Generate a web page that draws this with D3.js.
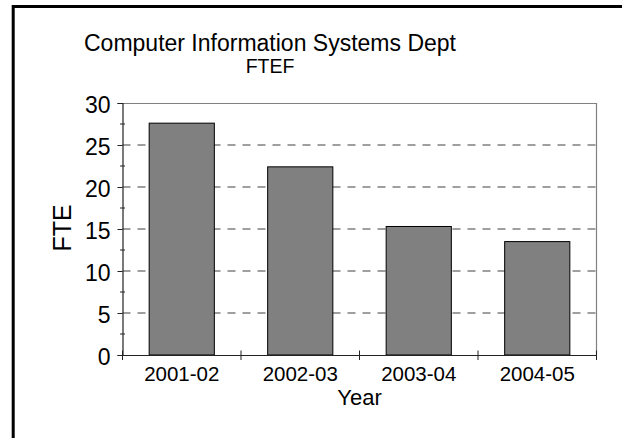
<!DOCTYPE html>
<html>
<head>
<meta charset="utf-8">
<script src="https://cdn.jsdelivr.net/npm/d3@7"></script>
<style>
  body { margin: 0; background: #fff; }
  text { font-family: "Liberation Sans", Arial, sans-serif; fill: #000; }
</style>
</head>
<body>
<div class="chart"></div>
<script>
var years = ["2001-02", "2002-03", "2003-04", "2004-05"];
var fte = [27.6, 22.4, 15.3, 13.5];
var yTicks = [0, 5, 10, 15, 20, 25, 30];
var yMinorTicks = [2.5, 7.5, 12.5, 17.5, 22.5, 27.5];

var svgWidth = 622;
var svgHeight = 438;

var margin = { top: 103, right: 25.5, bottom: 83, left: 122.5 };
var width = svgWidth - margin.left - margin.right;
var height = svgHeight - margin.top - margin.bottom;

var svg = d3.select(".chart")
  .append("svg")
  .attr("width", svgWidth)
  .attr("height", svgHeight);

// outer frame (runs off right and bottom edges)
svg.append("rect")
  .attr("x", 13.2)
  .attr("y", 6.5)
  .attr("width", 700)
  .attr("height", 500)
  .attr("fill", "none")
  .attr("stroke", "#000")
  .attr("stroke-width", 3);

svg.append("text")
  .attr("x", 270)
  .attr("y", 51)
  .attr("text-anchor", "middle")
  .style("font-size", "23px")
  .text("Computer Information Systems Dept");

svg.append("text")
  .attr("x", 270)
  .attr("y", 72.5)
  .attr("text-anchor", "middle")
  .style("font-size", "19.5px")
  .text("FTEF");

var chart = svg.append("g")
  .attr("transform", "translate(" + margin.left + "," + margin.top + ")");

var x = d3.scaleBand()
  .domain(years)
  .range([0, width])
  .paddingInner(0.45)
  .paddingOuter(0.225);

var y = d3.scaleLinear()
  .domain([0, 30])
  .range([height, 0]);

// plot area border top/right
chart.append("path")
  .attr("d", "M0,0.5H" + width + "V" + height)
  .attr("fill", "none")
  .attr("stroke", "#808080")
  .attr("stroke-width", 1.2);

// dashed gridlines
chart.append("g")
  .selectAll("line")
  .data(yTicks.filter(function(d) { return d > 0 && d < 30; }))
  .enter().append("line")
  .attr("x1", 0)
  .attr("x2", width)
  .attr("y1", function(d) { return y(d); })
  .attr("y2", function(d) { return y(d); })
  .attr("stroke", "#808080")
  .attr("stroke-width", 1.3)
  .attr("stroke-dasharray", "8,7");

chart.selectAll(".bar")
  .data(fte)
  .enter().append("rect")
  .attr("class", "bar")
  .attr("x", function(d, i) { return x(years[i]); })
  .attr("y", function(d) { return y(d); })
  .attr("width", x.bandwidth())
  .attr("height", function(d) { return height - y(d); })
  .attr("fill", "#808080")
  .attr("stroke", "#000")
  .attr("stroke-width", 1);

// y axis
var yAxis = d3.axisLeft(y)
  .tickValues(yTicks)
  .tickSize(5)
  .tickPadding(7);

var yG = chart.append("g")
  .call(yAxis);
yG.select(".domain").attr("stroke", "#222").attr("stroke-width", 1.2);
yG.selectAll(".tick line").attr("stroke", "#222");
yG.selectAll(".tick text")
  .style("font-size", "23px")
  .attr("font-family", null)
  .attr("dy", "0.4em");

chart.append("g")
  .selectAll("line")
  .data(yMinorTicks)
  .enter().append("line")
  .attr("x1", -2.5)
  .attr("x2", 2.5)
  .attr("y1", function(d) { return y(d); })
  .attr("y2", function(d) { return y(d); })
  .attr("stroke", "#222");

// x axis, ticks sit between categories
var xAxis = d3.axisBottom(x)
  .tickSize(0)
  .tickPadding(11);

var xG = chart.append("g")
  .attr("transform", "translate(0," + height + ")")
  .call(xAxis);
xG.select(".domain").attr("stroke", "#222").attr("stroke-width", 1.2);
xG.selectAll(".tick text")
  .style("font-size", "20.5px")
  .attr("font-family", null);

var edges = d3.range(years.length + 1).map(function(i) { return i * x.step(); });
xG.selectAll(".edge")
  .data(edges)
  .enter().append("line")
  .attr("class", "edge")
  .attr("x1", function(d) { return d; })
  .attr("x2", function(d) { return d; })
  .attr("y1", -4.5)
  .attr("y2", 5)
  .attr("stroke", "#222");

chart.append("text")
  .attr("x", width / 2)
  .attr("y", height + 50)
  .attr("text-anchor", "middle")
  .style("font-size", "22px")
  .text("Year");

chart.append("text")
  .attr("transform", "rotate(-90)")
  .attr("x", -(228 - margin.top))
  .attr("y", 71 - margin.left)
  .attr("text-anchor", "middle")
  .style("font-size", "25px")
  .text("FTE");
</script>
</body>
</html>
